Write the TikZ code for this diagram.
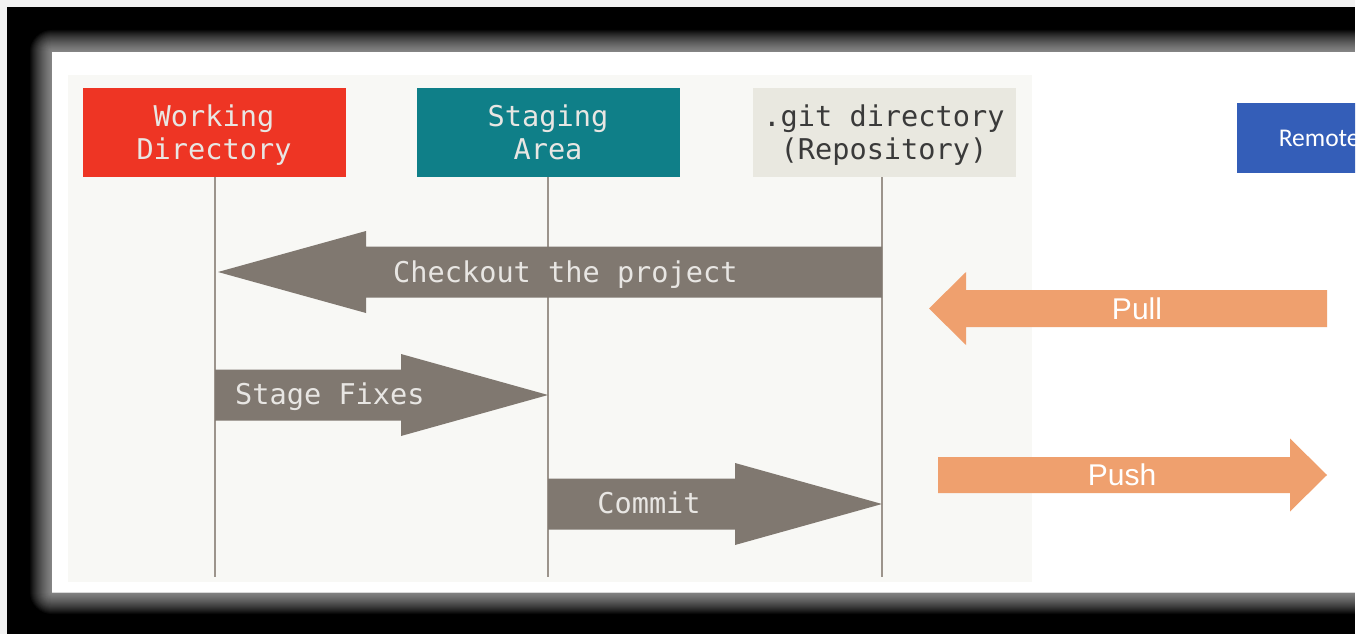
\documentclass[tikz,border=0pt]{standalone}
\usepackage{fontspec}
\setmainfont{Liberation Sans}
\newfontfamily\monofont{DejaVu Sans Mono}
\newfontfamily\calfont{Carlito}
\usetikzlibrary{calc}

\definecolor{wdred}{HTML}{EE3524}
\definecolor{stteal}{HTML}{0F7F88}
\definecolor{gitbeige}{HTML}{E9E8E0}
\definecolor{gittext}{HTML}{3A3A3A}
\definecolor{panelgray}{HTML}{F8F8F5}
\definecolor{flowgray}{HTML}{807870}
\definecolor{lifegray}{HTML}{9C948C}
\definecolor{lighttext}{HTML}{E8E6E3}
\definecolor{netorange}{HTML}{EFA06E}
\definecolor{remoteblue}{HTML}{345EB8}
\definecolor{outerbg}{HTML}{F2F2F2}

% flat block arrow: #1 style, #2 tail, #3 tip, #4 shaft half-height,
% #5 head half-height, #6 x offset from tip to head base
\newcommand{\flatarrow}[6]{%
  \fill[#1] ($(#2)+(0,-#4)$) -- ($(#3)+(#6,-#4)$) -- ($(#3)+(#6,-#5)$)
    -- (#3) -- ($(#3)+(#6,#5)$) -- ($(#3)+(#6,#4)$) -- ($(#2)+(0,#4)$) -- cycle;}

\tikzset{
  areabox/.style={rectangle, minimum width=263pt, minimum height=89pt, inner sep=0pt},
  boxtext/.style={inner sep=0pt, align=center, font=\monofont\fontsize{28.6}{33}\selectfont},
  lifeline/.style={draw=lifegray, line width=2pt},
  flowfill/.style={fill=flowgray},
  flowtext/.style={text=lighttext, inner sep=0pt, font=\monofont\fontsize{28.6}{33}\selectfont},
  netfill/.style={fill=netorange},
  nettext/.style={text=white, inner sep=0pt, font=\fontsize{30}{34}\selectfont},
}

\begin{document}
\begin{tikzpicture}[x=1pt, y=-1pt]
\useasboundingbox (0,0) rectangle (1369,634);
\fill[outerbg] (0,0) rectangle (1369,634);
\fill[white] (1355,0) rectangle (1369,634);

% dark frame with a soft glow around the card
\begin{scope}
  \clip (7,7) rectangle (1355,634);
  \fill[black] (7,7) rectangle (1355,634);
  \foreach \d in {1,...,22} {
    \fill[white, opacity=0.035, rounded corners=\d pt]
      (52-\d,52-\d) rectangle (1355+\d,592+\d);
  }
\end{scope}

% card
\fill[white] (52,52) rectangle (1355,592);
\draw[black!15, line width=0.8pt] (52,592) -- (1355,592);
\fill[panelgray] (68,75) rectangle (1032,582);

% area headers
\node[areabox, fill=wdred] (wd) at (214,132.5) {};
\node[areabox, fill=stteal] (sa) at (548,132.5) {};
\node[areabox, fill=gitbeige] (gd) at (884,132.5) {};
\node[boxtext, text=lighttext] (wdText) at ([yshift=-4pt]wd.center) {\strut Working\\\strut Directory};
\node[boxtext, text=lighttext] (saText) at ([yshift=-4pt]sa.center) {\strut Staging\\\strut Area};
\node[boxtext, text=gittext] (gdText) at ([yshift=-4pt]gd.center) {\strut .git directory\\\strut (Repository)};

% lifelines
\coordinate (wdEnd) at (215,577);
\coordinate (saEnd) at (548,577);
\coordinate (gdEnd) at (882,577);
\draw[lifeline] (wd.south -| wdEnd) -- (wdEnd);
\draw[lifeline] (sa.south) -- (saEnd);
\draw[lifeline] (gd.south -| gdEnd) -- (gdEnd);

% flows between the areas
\coordinate (coTail) at (882,272);
\coordinate (coTip) at (218,272);
\coordinate (sfTail) at (215,395);
\coordinate (sfTip) at (548,395);
\coordinate (cmTail) at (548,504);
\coordinate (cmTip) at (882,504);
\flatarrow{flowfill}{coTail}{coTip}{25.5}{41}{148}
\flatarrow{flowfill}{sfTail}{sfTip}{25.5}{41}{-147}
\flatarrow{flowfill}{cmTail}{cmTip}{25.5}{41}{-147}
\node[flowtext, anchor=base west] (coLabel) at (393,282) {Checkout the project};
\node[flowtext, anchor=base west] (sfLabel) at (235,404) {Stage Fixes};
\node[flowtext, anchor=base] (cmLabel) at (649,513) {Commit};

% remote side
\begin{scope}
  \clip (52,52) rectangle (1355,592);
  \node[rectangle, fill=remoteblue, minimum width=164pt, minimum height=70pt,
        inner sep=0pt, text=white, font=\calfont\fontsize{25.5}{30}\selectfont,
        anchor=west] (remote) at (1237,138) {Remote};
\end{scope}

\coordinate (plTail) at (1327,308.5);
\coordinate (plTip) at (929,308.5);
\coordinate (psTail) at (938,475);
\coordinate (psTip) at (1327,475);
\flatarrow{netfill}{plTail}{plTip}{18.5}{36.5}{37}
\flatarrow{netfill}{psTail}{psTip}{18}{36.5}{-37}
\node[nettext, anchor=base] (plLabel) at (1137,319) {Pull};
\node[nettext, anchor=base] (psLabel) at (1122,485) {Push};
\end{tikzpicture}
\end{document}
